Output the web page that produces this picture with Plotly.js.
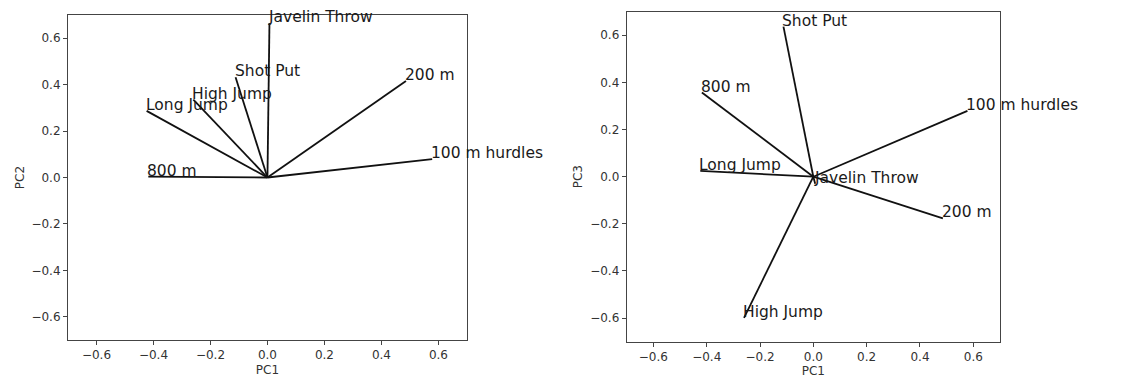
<!DOCTYPE html>
<html>
<head>
<meta charset="utf-8">
<script src="https://cdn.plot.ly/plotly-3.0.1.min.js"></script>
<style>
html,body{margin:0;padding:0;background:#fff;}
#chart{width:1129px;height:378px;}
</style>
</head>
<body>
<div id="chart"></div>
<script>
// Variables (loadings)
const variables = ["Javelin Throw", "Shot Put", "High Jump", "Long Jump", "800 m", "200 m", "100 m hurdles"];
const pc1 = [0.007, -0.112, -0.260, -0.424, -0.418, 0.486, 0.578];
const pc2 = [0.665, 0.432, 0.335, 0.287, 0.004, 0.416, 0.079];
const pc3 = [-0.030, 0.637, -0.599, 0.025, 0.357, -0.177, 0.279];
const tickVals = [-0.6, -0.4, -0.2, 0.0, 0.2, 0.4, 0.6];
const tickText = ["\u22120.6", "\u22120.4", "\u22120.2", "0.0", "0.2", "0.4", "0.6"];

function segs(xs, ys) {
  const x = [], y = [];
  for (let i = 0; i < xs.length; i++) { x.push(0, xs[i], null); y.push(0, ys[i], null); }
  return {x, y};
}
const s1 = segs(pc1, pc2), s2 = segs(pc1, pc3);
const lineStyle = {color: '#111', width: 1.8};
const traces = [
  {type: 'scatter', mode: 'lines', x: s1.x, y: s1.y, xaxis: 'x', yaxis: 'y', line: lineStyle, hoverinfo: 'skip', showlegend: false},
  {type: 'scatter', mode: 'lines', x: s2.x, y: s2.y, xaxis: 'x2', yaxis: 'y2', line: lineStyle, hoverinfo: 'skip', showlegend: false}
];

const annotations = [];
function addLabels(xs, ys, xr, yr) {
  for (let i = 0; i < variables.length; i++) {
    annotations.push({x: xs[i], y: ys[i], xref: xr, yref: yr, text: variables[i], showarrow: false,
      xanchor: 'left', yanchor: 'bottom', xshift: -3, yshift: -5,
      font: {family: 'DejaVu Sans', size: 15.5, color: '#1a1a1a'}});
  }
}
addLabels(pc1, pc2, 'x', 'y');
addLabels(pc1, pc3, 'x2', 'y2');

function axis(extra, title) {
  return Object.assign({
    range: [-0.7, 0.7], tickvals: tickVals, ticktext: tickText,
    showgrid: false, zeroline: false, showline: true, mirror: true,
    linecolor: '#444', linewidth: 1, ticks: 'outside', ticklen: 4, tickwidth: 1, tickcolor: '#444',
    tickfont: {family: 'DejaVu Sans', size: 12, color: '#333'},
    title: {text: title, font: {family: 'DejaVu Sans', size: 12, color: '#333'}, standoff: 4}
  }, extra);
}

const layout = {
  width: 1129, height: 378,
  margin: {l: 0, r: 0, t: 0, b: 0},
  paper_bgcolor: '#fff', plot_bgcolor: '#fff',
  showlegend: false,
  xaxis: axis({domain: [0.0602, 0.4136], anchor: 'y'}, 'PC1'),
  yaxis: axis({domain: [0.1005, 0.9603], anchor: 'x'}, 'PC2'),
  xaxis2: axis({domain: [0.5551, 0.8857], anchor: 'y2'}, 'PC1'),
  yaxis2: axis({domain: [0.0960, 0.9690], anchor: 'x2'}, 'PC3'),
  annotations: annotations
};

Plotly.newPlot('chart', traces, layout, {staticPlot: true, displayModeBar: false});
</script>
</body>
</html>
